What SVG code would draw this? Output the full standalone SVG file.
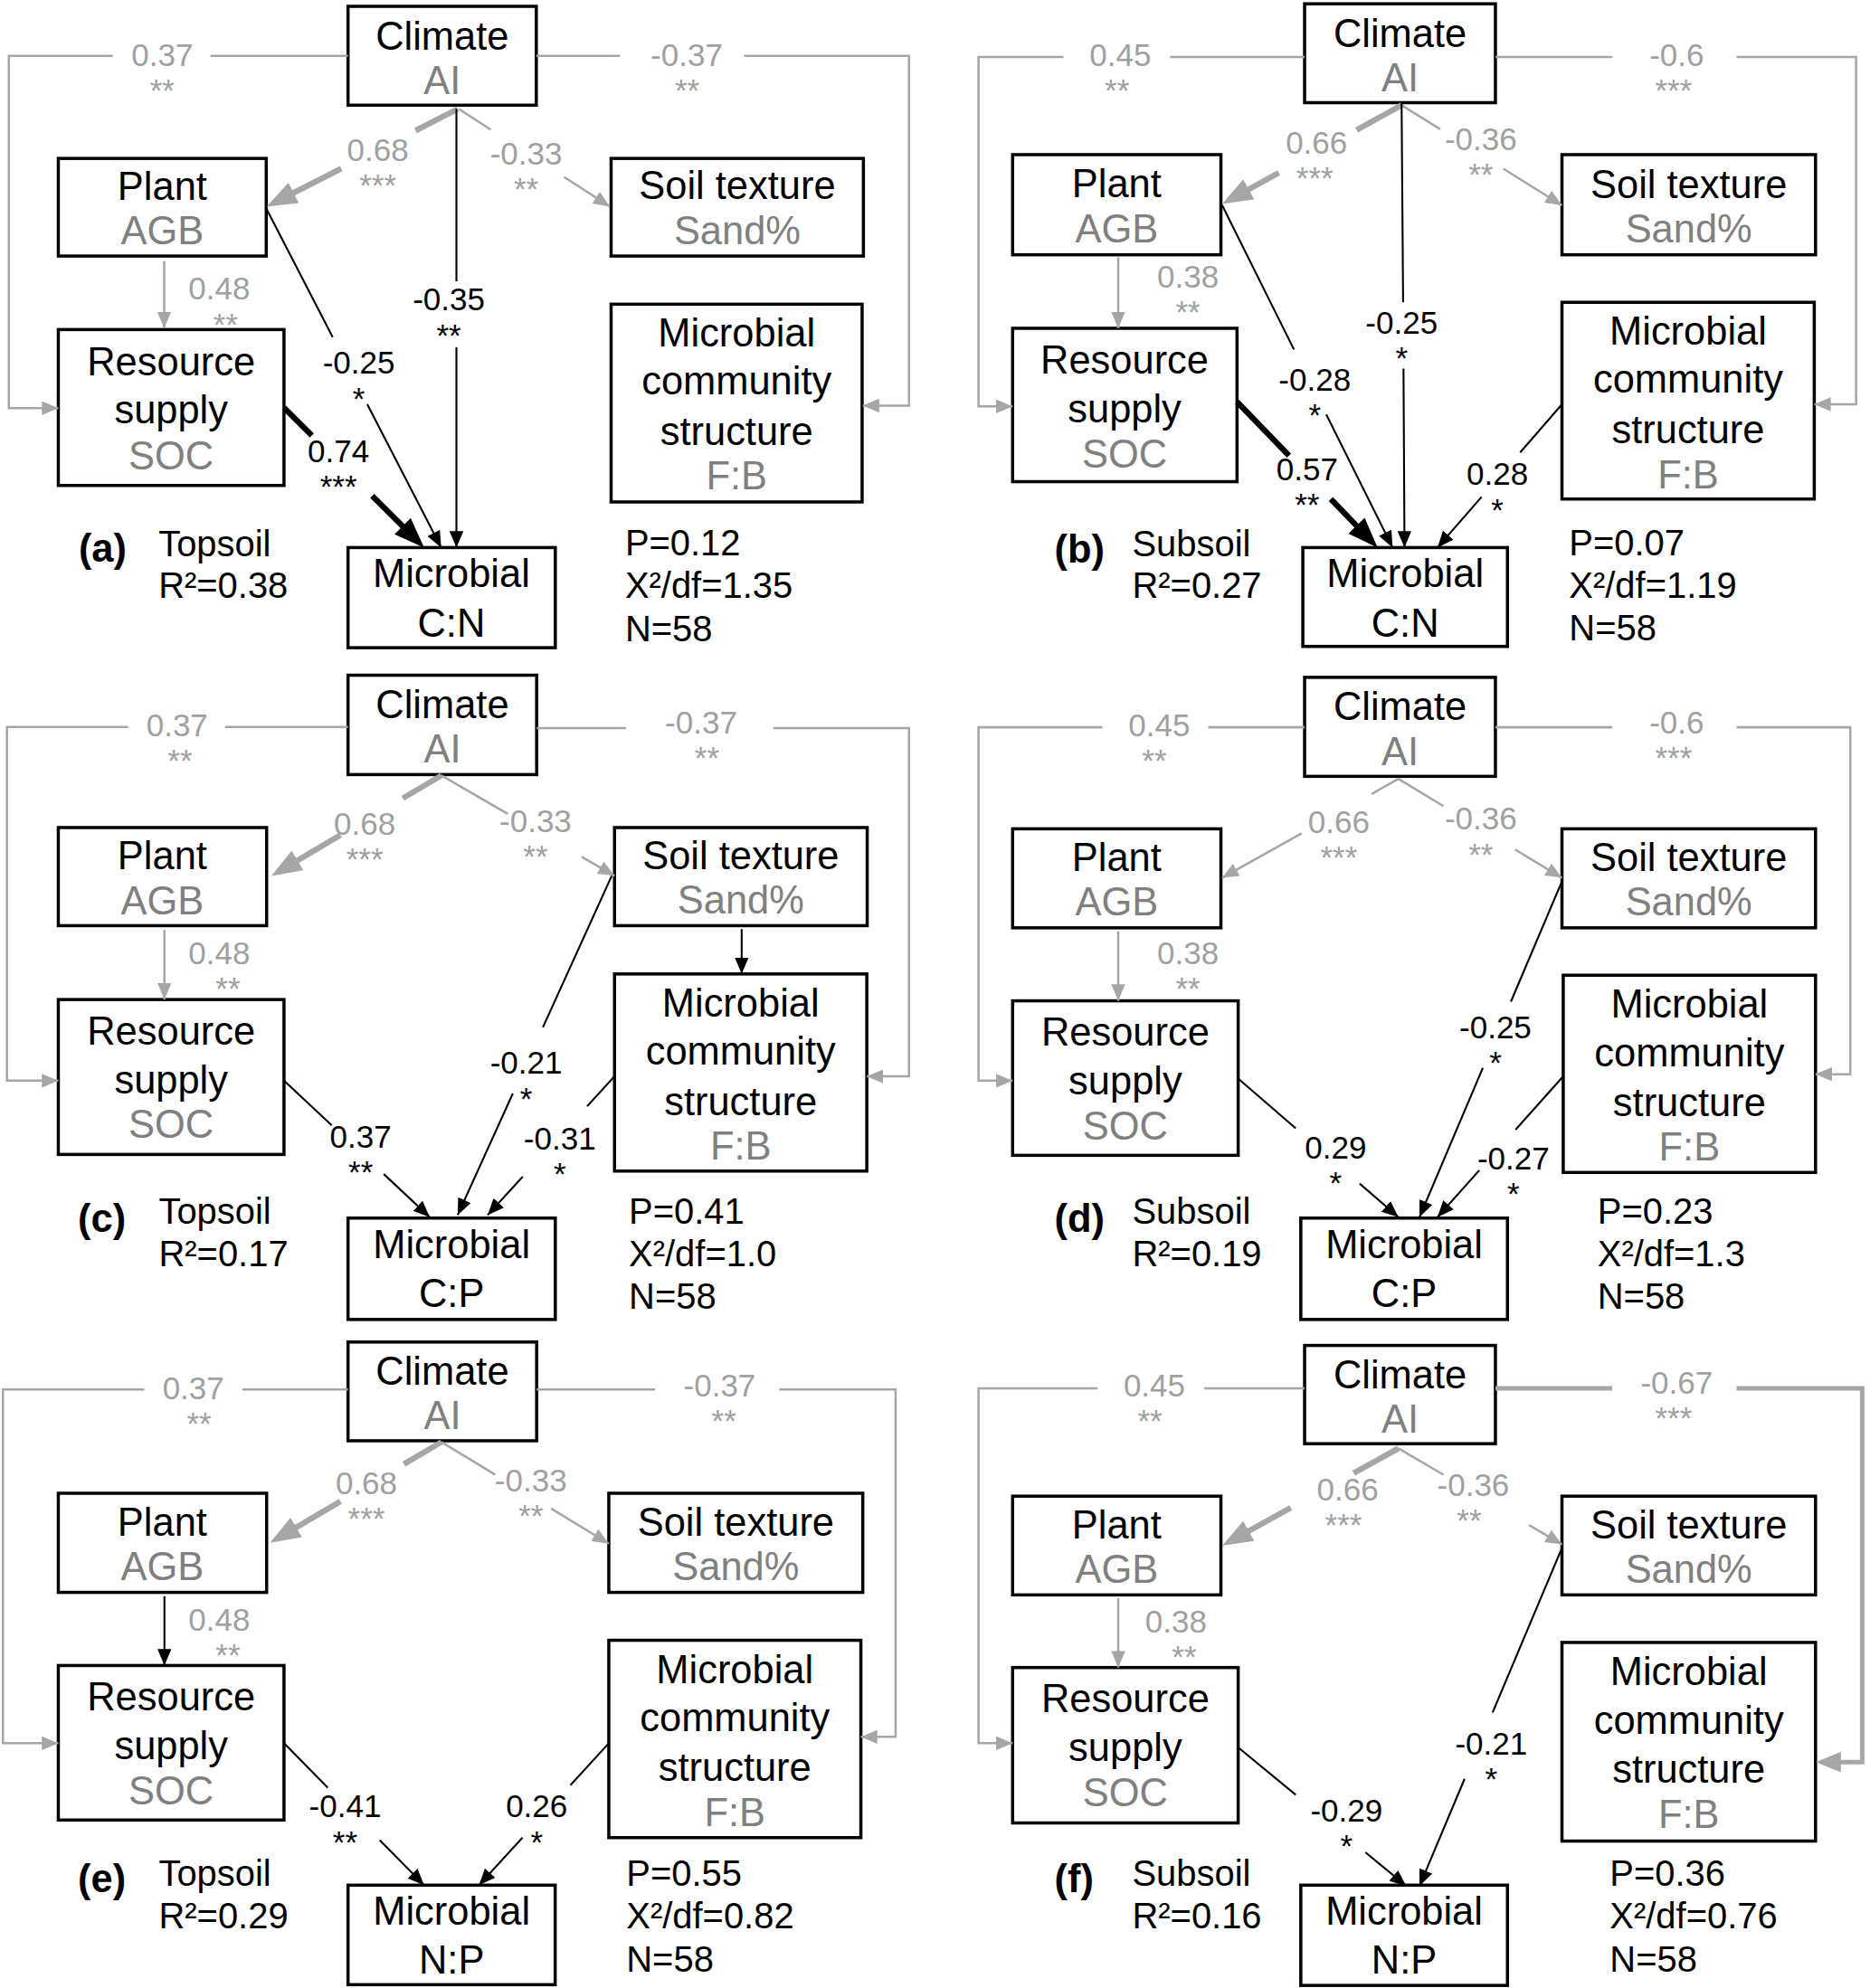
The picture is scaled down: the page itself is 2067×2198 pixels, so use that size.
<svg xmlns="http://www.w3.org/2000/svg" width="2067" height="2198" viewBox="0 0 2067 2198">
<defs>
<style>
.bx{fill:#fff;stroke:#000;stroke-width:2.5}
text{font-family:"Liberation Sans",Arial,sans-serif}
.t{font-size:31px;text-anchor:middle;fill:#000}
.s{font-size:31px;text-anchor:middle;fill:#808080}
.c{font-size:25px;text-anchor:middle;fill:#000}
.cg{font-size:25px;text-anchor:middle;fill:#a0a0a0}
.st{font-size:28.5px;fill:#000}
.pl{font-size:31px;font-weight:bold;fill:#000}
.lg{fill:none;stroke:#a6a6a6;stroke-width:1.8}
.lk{fill:none;stroke:#000;stroke-width:1.5}
.lgT{fill:none;stroke:#a6a6a6;stroke-width:4.5}
.lgM{fill:none;stroke:#a6a6a6;stroke-width:3.5}
.lkT{fill:none;stroke:#000;stroke-width:4.5}
</style>
<marker id="ak" markerUnits="userSpaceOnUse" markerWidth="13" markerHeight="11" refX="13" refY="5.5" orient="auto"><path d="M0,0 L13,5.5 L0,11 z" fill="#000"/></marker>
<marker id="ag" markerUnits="userSpaceOnUse" markerWidth="13" markerHeight="11" refX="13" refY="5.5" orient="auto"><path d="M0,0 L13,5.5 L0,11 z" fill="#a6a6a6"/></marker>
<marker id="AK" markerUnits="userSpaceOnUse" markerWidth="24" markerHeight="18" refX="18" refY="9" orient="auto"><path d="M0,0 L24,9 L0,18 z" fill="#000"/></marker>
<marker id="AG" markerUnits="userSpaceOnUse" markerWidth="24" markerHeight="18" refX="18" refY="9" orient="auto"><path d="M0,0 L24,9 L0,18 z" fill="#a6a6a6"/></marker>
<marker id="AGm" markerUnits="userSpaceOnUse" markerWidth="20" markerHeight="16" refX="15" refY="8" orient="auto"><path d="M0,0 L20,8 L0,16 z" fill="#a6a6a6"/></marker>
</defs>
<rect x="0" y="0" width="2067" height="2198" fill="#fff"/>
<g transform="scale(1.4014)">

<!-- ===== NODES ===== -->
<!-- Panel a -->
<g id="a-climate"><rect class="bx" x="274.5" y="5" width="148.5" height="78"/><text class="t" x="348.8" y="39">Climate</text><text class="s" x="348.8" y="74">AI</text></g>
<g id="a-plant"><rect class="bx" x="46" y="125" width="164" height="77"/><text class="t" x="128" y="158">Plant</text><text class="s" x="128" y="193">AGB</text></g>
<g id="a-resource"><rect class="bx" x="46" y="260" width="178" height="123"/><text class="t" x="135" y="296">Resource</text><text class="t" x="135" y="334">supply</text><text class="s" x="135" y="370">SOC</text></g>
<g id="a-soil"><rect class="bx" x="482" y="125" width="199" height="77"/><text class="t" x="581.5" y="157">Soil texture</text><text class="s" x="581.5" y="193">Sand%</text></g>
<g id="a-mcs"><rect class="bx" x="482" y="240" width="198" height="156"/><text class="t" x="581" y="273">Microbial</text><text class="t" x="581" y="311">community</text><text class="t" x="581" y="351">structure</text><text class="s" x="581" y="386">F:B</text></g>
<g id="a-target"><rect class="bx" x="274.5" y="432" width="163.5" height="79"/><text class="t" x="356" y="463">Microbial</text><text class="t" x="356" y="502">C:N</text></g>

<!-- Panel b -->
<g id="b-climate"><rect class="bx" x="1029" y="3" width="150.5" height="78"/><text class="t" x="1104.3" y="37">Climate</text><text class="s" x="1104.3" y="72">AI</text></g>
<g id="b-plant"><rect class="bx" x="798.7" y="122" width="164.3" height="79"/><text class="t" x="880.8" y="155.5">Plant</text><text class="s" x="880.8" y="191">AGB</text></g>
<g id="b-resource"><rect class="bx" x="798.7" y="259" width="177" height="121"/><text class="t" x="887" y="295">Resource</text><text class="t" x="887" y="333">supply</text><text class="s" x="887" y="369">SOC</text></g>
<g id="b-soil"><rect class="bx" x="1232" y="122" width="200" height="79"/><text class="t" x="1332" y="156">Soil texture</text><text class="s" x="1332" y="191">Sand%</text></g>
<g id="b-mcs"><rect class="bx" x="1232" y="238.5" width="199" height="155.2"/><text class="t" x="1331.5" y="272">Microbial</text><text class="t" x="1331.5" y="310">community</text><text class="t" x="1331.5" y="350">structure</text><text class="s" x="1331.5" y="385">F:B</text></g>
<g id="b-target"><rect class="bx" x="1027.6" y="432" width="161.4" height="78"/><text class="t" x="1108.3" y="463">Microbial</text><text class="t" x="1108.3" y="502">C:N</text></g>

<!-- Panel c -->
<g id="c-climate"><rect class="bx" x="274.5" y="532.7" width="148.8" height="78.4"/><text class="t" x="348.9" y="566.4">Climate</text><text class="s" x="348.9" y="601.7">AI</text></g>
<g id="c-plant"><rect class="bx" x="46" y="652.9" width="164.3" height="77.4"/><text class="t" x="128" y="685.9">Plant</text><text class="s" x="128" y="721.2">AGB</text></g>
<g id="c-resource"><rect class="bx" x="46" y="788.6" width="178" height="122.2"/><text class="t" x="135" y="823.9">Resource</text><text class="t" x="135" y="862.7">supply</text><text class="s" x="135" y="898">SOC</text></g>
<g id="c-soil"><rect class="bx" x="484.7" y="652.9" width="199.3" height="77.4"/><text class="t" x="584.3" y="685.9">Soil texture</text><text class="s" x="584.3" y="720.9">Sand%</text></g>
<g id="c-mcs"><rect class="bx" x="484.7" y="768.4" width="199" height="155.5"/><text class="t" x="584.2" y="802">Microbial</text><text class="t" x="584.2" y="840">community</text><text class="t" x="584.2" y="879.5">structure</text><text class="s" x="584.2" y="914.8">F:B</text></g>
<g id="c-target"><rect class="bx" x="274.5" y="961" width="163.5" height="80"/><text class="t" x="356.2" y="992.3">Microbial</text><text class="t" x="356.2" y="1031">C:P</text></g>

<!-- Panel d -->
<g id="d-climate"><rect class="bx" x="1029" y="534.4" width="150.5" height="78.1"/><text class="t" x="1104.3" y="568.1">Climate</text><text class="s" x="1104.3" y="603.4">AI</text></g>
<g id="d-plant"><rect class="bx" x="798.7" y="653.9" width="164.3" height="78.1"/><text class="t" x="880.8" y="687.4">Plant</text><text class="s" x="880.8" y="722.4">AGB</text></g>
<g id="d-resource"><rect class="bx" x="798.7" y="789.6" width="177.9" height="121.9"/><text class="t" x="887.6" y="825">Resource</text><text class="t" x="887.6" y="863.6">supply</text><text class="s" x="887.6" y="899">SOC</text></g>
<g id="d-soil"><rect class="bx" x="1232" y="653.9" width="200" height="78.1"/><text class="t" x="1332" y="687.4">Soil texture</text><text class="s" x="1332" y="722.4">Sand%</text></g>
<g id="d-mcs"><rect class="bx" x="1233" y="769.4" width="199" height="155.6"/><text class="t" x="1332.5" y="803">Microbial</text><text class="t" x="1332.5" y="841.4">community</text><text class="t" x="1332.5" y="880.4">structure</text><text class="s" x="1332.5" y="915.4">F:B</text></g>
<g id="d-target"><rect class="bx" x="1026" y="961" width="163" height="80"/><text class="t" x="1107.5" y="992.3">Microbial</text><text class="t" x="1107.5" y="1031">C:P</text></g>

<!-- Panel e -->
<g id="e-climate"><rect class="bx" x="274.5" y="1058.8" width="148.8" height="77.9"/><text class="t" x="348.9" y="1092.5">Climate</text><text class="s" x="348.9" y="1127.8">AI</text></g>
<g id="e-plant"><rect class="bx" x="46" y="1178.1" width="164.3" height="78.2"/><text class="t" x="128" y="1211.6">Plant</text><text class="s" x="128" y="1246.6">AGB</text></g>
<g id="e-resource"><rect class="bx" x="46" y="1314" width="178" height="121.9"/><text class="t" x="135" y="1349.3">Resource</text><text class="t" x="135" y="1388">supply</text><text class="s" x="135" y="1423.4">SOC</text></g>
<g id="e-soil"><rect class="bx" x="480.2" y="1178.1" width="200.3" height="78.2"/><text class="t" x="580.4" y="1211.6">Soil texture</text><text class="s" x="580.4" y="1246.6">Sand%</text></g>
<g id="e-mcs"><rect class="bx" x="480.2" y="1294.1" width="198.8" height="155.7"/><text class="t" x="579.6" y="1327.7">Microbial</text><text class="t" x="579.6" y="1366">community</text><text class="t" x="579.6" y="1405.1">structure</text><text class="s" x="579.6" y="1440.5">F:B</text></g>
<g id="e-target"><rect class="bx" x="274.5" y="1487.3" width="163.4" height="78.5"/><text class="t" x="356.2" y="1518.6">Microbial</text><text class="t" x="356.2" y="1557.3">N:P</text></g>

<!-- Panel f -->
<g id="f-climate"><rect class="bx" x="1029" y="1061.5" width="150.5" height="77.5"/><text class="t" x="1104.3" y="1095.2">Climate</text><text class="s" x="1104.3" y="1130.5">AI</text></g>
<g id="f-plant"><rect class="bx" x="798.7" y="1180.4" width="164.3" height="77.9"/><text class="t" x="880.8" y="1213.9">Plant</text><text class="s" x="880.8" y="1248.9">AGB</text></g>
<g id="f-resource"><rect class="bx" x="798.7" y="1315.6" width="177.9" height="122.6"/><text class="t" x="887.6" y="1351">Resource</text><text class="t" x="887.6" y="1389.6">supply</text><text class="s" x="887.6" y="1425">SOC</text></g>
<g id="f-soil"><rect class="bx" x="1232" y="1180.4" width="200" height="77.9"/><text class="t" x="1332" y="1213.9">Soil texture</text><text class="s" x="1332" y="1248.9">Sand%</text></g>
<g id="f-mcs"><rect class="bx" x="1232" y="1295.8" width="200" height="156.7"/><text class="t" x="1332" y="1329.4">Microbial</text><text class="t" x="1332" y="1367.7">community</text><text class="t" x="1332" y="1406.8">structure</text><text class="s" x="1332" y="1442.2">F:B</text></g>
<g id="f-target"><rect class="bx" x="1026" y="1487.3" width="163" height="79.1"/><text class="t" x="1107.5" y="1518.6">Microbial</text><text class="t" x="1107.5" y="1557.3">N:P</text></g>

<!-- ===== CONNECTORS ===== -->
<g id="connectors">
<!-- a -->
<path class="lg" marker-end="url(#ag)" d="M274.5,44 H166 M89,44 H7 V322 H46"/>
<path class="lg" marker-end="url(#ag)" d="M423,44 H489 M587,44 H717 V320 H680.5"/>
<path class="lgT" marker-end="url(#AG)" d="M361,86 L327.8,103 M269.1,133 L215.6,160.3"/>
<path class="lg" marker-end="url(#ag)" d="M362,86 L387,102.2 M445,139.7 L481,163"/>
<path class="lg" marker-end="url(#ag)" d="M129.5,206 V259"/>
<path class="lk" marker-end="url(#ak)" d="M210.3,165 L262.4,266 M289.7,319 L348,432"/>
<path class="lk" marker-end="url(#ak)" d="M360,86 V222 M360,274 V432"/>
<path class="lkT" marker-end="url(#AK)" d="M224,321.6 L246,343.6 M293.6,391.2 L330.3,427.8"/>
<!-- b -->
<path class="lg" marker-end="url(#ag)" d="M1029,45 H922.8 M838.8,45 H771.8 V320.6 H798.7"/>
<path class="lg" marker-end="url(#ag)" d="M1179.5,45 H1271.6 M1369.7,45 H1464 V319 H1431"/>
<path class="lgT" marker-end="url(#AG)" d="M1105.5,83 L1070,102.6 M1008.7,136.3 L969.2,158.1"/>
<path class="lg" marker-end="url(#ag)" d="M1105.5,83 L1136,102 M1185.7,133.1 L1232,162"/>
<path class="lg" marker-end="url(#ag)" d="M882,203 V259"/>
<path class="lk" marker-end="url(#ak)" d="M964,162 L1020.6,275.7 M1046.1,327 L1098.4,432"/>
<path class="lk" marker-end="url(#ak)" d="M1105.5,81 L1106.7,238.5 M1107,290.7 L1107.8,432"/>
<path class="lkT" marker-end="url(#AK)" d="M975.7,317 L1016.7,359.5 M1049.7,393.7 L1082.4,427.7"/>
<path class="lk" marker-end="url(#ak)" d="M1232,319 L1199,357 M1168.6,392 L1133.8,432"/>
<!-- c -->
<path class="lg" marker-end="url(#ag)" d="M274.5,573.5 H177.5 M101,573.5 H5.5 V852.6 H46"/>
<path class="lg" marker-end="url(#ag)" d="M423.3,574.5 H493.8 M610,574.5 H717 V849.2 H683.7"/>
<path class="lgT" marker-end="url(#AG)" d="M348.2,611.8 L317.7,629.8 M268.5,658.8 L219.2,688"/>
<path class="lg" marker-end="url(#ag)" d="M348.2,611.8 L400.5,642.1 M458.8,676 L484.7,691"/>
<path class="lg" marker-end="url(#ag)" d="M129.7,733.7 V788.6"/>
<path class="lk" marker-end="url(#ak)" d="M585,733 V768.4"/>
<path class="lk" marker-end="url(#ak)" d="M482.5,691 L428.2,810.5 M404.5,862.7 L361,958.6"/>
<path class="lk" marker-end="url(#ak)" d="M224,852.6 L261.7,887.9 M302.7,926.3 L339,960.3"/>
<path class="lk" marker-end="url(#ak)" d="M484.7,849.2 L463.1,872.8 M412.3,928.3 L384.6,958.6"/>
<!-- d -->
<path class="lg" marker-end="url(#ag)" d="M1029,573.8 H953 M869.5,573.8 H771.8 V852.6 H798.7"/>
<path class="lg" marker-end="url(#ag)" d="M1179.5,573.8 H1271.6 M1369.7,573.8 H1459.4 V847.5 H1432"/>
<path class="lg" marker-end="url(#ag)" d="M1103,614.5 L1081.9,626.4 M1026.6,657.4 L963.9,692.6"/>
<path class="lg" marker-end="url(#ag)" d="M1103,614.5 L1138.5,636 M1195,670.2 L1232,692.6"/>
<path class="lg" marker-end="url(#ag)" d="M882,734.7 V789.6"/>
<path class="lk" marker-end="url(#ak)" d="M1232,695.3 L1191.7,790.3 M1169.6,842.4 L1119.6,960.3"/>
<path class="lk" marker-end="url(#ak)" d="M976.6,850.9 L1022,890.2 M1072.4,933.8 L1103,960.3"/>
<path class="lk" marker-end="url(#ak)" d="M1233,849.2 L1195.4,891.3 M1166.8,923.3 L1133.8,960.3"/>
<!-- e -->
<path class="lg" marker-end="url(#ag)" d="M274.5,1096.3 H191.2 M113.8,1096.3 H2.3 V1375.3 H46"/>
<path class="lg" marker-end="url(#ag)" d="M423.3,1096.3 H516.6 M614.5,1096.3 H706.4 V1370.3 H679"/>
<path class="lgT" marker-end="url(#AG)" d="M348.2,1137.7 L318.6,1155.1 M268.5,1184.5 L218.2,1214.2"/>
<path class="lg" marker-end="url(#ag)" d="M348.2,1137.7 L390.5,1163.4 M434.7,1190.2 L480.2,1217.9"/>
<path class="lk" marker-end="url(#ak)" d="M129.7,1259.3 V1314"/>
<path class="lk" marker-end="url(#ak)" d="M224,1375.3 L258.5,1410.3 M299.5,1451.8 L334.5,1487.3"/>
<path class="lk" marker-end="url(#ak)" d="M480.2,1375.3 L449.9,1408.4 M412.1,1449.8 L377.8,1487.3"/>
<!-- f -->
<path class="lg" marker-end="url(#ag)" d="M1029,1095.3 H949.7 M865.7,1095.3 H771.8 V1375.3 H798.7"/>
<path class="lgM" marker-end="url(#AGm)" d="M1179.5,1095.3 H1271.6 M1369.7,1095.3 H1468.8 V1390.2 H1437"/>
<path class="lgT" marker-end="url(#AG)" d="M1103,1142.7 L1067.7,1162.2 M1018.1,1189.6 L969.2,1216.6"/>
<path class="lg" marker-end="url(#ag)" d="M1103,1142.7 L1138.5,1163.5 M1206,1203.2 L1232,1218.5"/>
<path class="lg" marker-end="url(#ag)" d="M882,1261 V1315.6"/>
<path class="lk" marker-end="url(#ak)" d="M1232,1221.2 L1177.3,1351 M1155.2,1403.4 L1119.6,1488"/>
<path class="lk" marker-end="url(#ak)" d="M976.6,1378.6 L1022,1416 M1077,1461.4 L1109.2,1488"/>
</g>

<!-- ===== PATH COEFFICIENT LABELS ===== -->
<g id="coefficients">
<!-- a -->
<text class="cg" x="128" y="52">0.37<tspan x="128" dy="28">**</tspan></text>
<text class="cg" x="541.6" y="52">-0.37<tspan x="542" dy="28">**</tspan></text>
<text class="cg" x="298" y="127">0.68<tspan x="298" dy="28">***</tspan></text>
<text class="cg" x="415" y="129.6">-0.33<tspan x="415" dy="28">**</tspan></text>
<text class="cg" x="173" y="236.5">0.48<tspan x="178" dy="28">**</tspan></text>
<text class="c" x="283" y="295">-0.25<tspan x="283" dy="28">*</tspan></text>
<text class="c" x="354" y="245">-0.35<tspan x="354" dy="28">**</tspan></text>
<text class="c" x="267" y="364.5">0.74<tspan x="267" dy="28">***</tspan></text>
<!-- b -->
<text class="cg" x="883.7" y="52">0.45<tspan x="881" dy="28">**</tspan></text>
<text class="cg" x="1322.5" y="52">-0.6<tspan x="1320" dy="28">***</tspan></text>
<text class="cg" x="1038.4" y="121">0.66<tspan x="1037" dy="28">***</tspan></text>
<text class="cg" x="1168" y="118.6">-0.36<tspan x="1168" dy="28">**</tspan></text>
<text class="cg" x="937" y="226.6">0.38<tspan x="937" dy="28">**</tspan></text>
<text class="c" x="1037" y="308">-0.28<tspan x="1037" dy="28">*</tspan></text>
<text class="c" x="1105.5" y="263">-0.25<tspan x="1105.5" dy="28">*</tspan></text>
<text class="c" x="1031" y="379">0.57<tspan x="1031" dy="28">**</tspan></text>
<text class="c" x="1181" y="382.7">0.28<tspan x="1181" dy="28">*</tspan></text>
<!-- c -->
<text class="cg" x="139.7" y="580.5">0.37<tspan x="142" dy="28">**</tspan></text>
<text class="cg" x="553" y="578.8">-0.37<tspan x="557.6" dy="28">**</tspan></text>
<text class="cg" x="287.7" y="658.6">0.68<tspan x="287.7" dy="28">***</tspan></text>
<text class="cg" x="422.4" y="656.3">-0.33<tspan x="422.4" dy="28">**</tspan></text>
<text class="cg" x="173" y="760.6">0.48<tspan x="179.8" dy="28">**</tspan></text>
<text class="c" x="415" y="847.2">-0.21<tspan x="415" dy="28">*</tspan></text>
<text class="c" x="284.5" y="905.4">0.37<tspan x="284.5" dy="28">**</tspan></text>
<text class="c" x="441.5" y="907">-0.31<tspan x="441.5" dy="28">*</tspan></text>
<!-- d -->
<text class="cg" x="914.3" y="580.5">0.45<tspan x="910.5" dy="28">**</tspan></text>
<text class="cg" x="1322.5" y="578.8">-0.6<tspan x="1320" dy="28">***</tspan></text>
<text class="cg" x="1056" y="657.3">0.66<tspan x="1056" dy="28">***</tspan></text>
<text class="cg" x="1168" y="654.6">-0.36<tspan x="1168" dy="28">**</tspan></text>
<text class="cg" x="937" y="760.6">0.38<tspan x="937" dy="28">**</tspan></text>
<text class="c" x="1179.5" y="818.9">-0.25<tspan x="1179.5" dy="28">*</tspan></text>
<text class="c" x="1053.5" y="913.8">0.29<tspan x="1053.5" dy="28">*</tspan></text>
<text class="c" x="1193.7" y="922.3">-0.27<tspan x="1193.7" dy="28">*</tspan></text>
<!-- e -->
<text class="cg" x="152.5" y="1103.6">0.37<tspan x="157" dy="28">**</tspan></text>
<text class="cg" x="567.6" y="1101.6">-0.37<tspan x="571" dy="28">**</tspan></text>
<text class="cg" x="289" y="1178.8">0.68<tspan x="289" dy="28">***</tspan></text>
<text class="cg" x="418.7" y="1176.5">-0.33<tspan x="418.7" dy="28">**</tspan></text>
<text class="cg" x="173" y="1286.5">0.48<tspan x="179.8" dy="28">**</tspan></text>
<text class="c" x="272.2" y="1433.9">-0.41<tspan x="272.2" dy="28">**</tspan></text>
<text class="c" x="423.3" y="1433.9">0.26<tspan x="423.3" dy="28">*</tspan></text>
<!-- f -->
<text class="cg" x="910.5" y="1101.6">0.45<tspan x="907" dy="28">**</tspan></text>
<text class="cg" x="1322.5" y="1099.3">-0.67<tspan x="1320" dy="28">***</tspan></text>
<text class="cg" x="1063" y="1183.8">0.66<tspan x="1059.7" dy="28">***</tspan></text>
<text class="cg" x="1162" y="1180.4">-0.36<tspan x="1158.8" dy="28">**</tspan></text>
<text class="cg" x="927.5" y="1288.1">0.38<tspan x="934" dy="28">**</tspan></text>
<text class="c" x="1176.2" y="1384.2">-0.21<tspan x="1176.2" dy="28">*</tspan></text>
<text class="c" x="1062" y="1437.2">-0.29<tspan x="1062" dy="28">*</tspan></text>
</g>

<!-- ===== PANEL LABELS AND STATISTICS ===== -->
<g id="stats">
<text class="pl" x="62" y="443">(a)</text>
<text class="st" x="125" y="438.5">Topsoil<tspan x="125" dy="33.5">R²=0.38</tspan></text>
<text class="st" x="493" y="438">P=0.12<tspan x="493" dy="34">X²/df=1.35</tspan><tspan x="493" dy="34">N=58</tspan></text>

<text class="pl" x="831.7" y="443.5">(b)</text>
<text class="st" x="893" y="438.5">Subsoil<tspan x="893" dy="33.3">R²=0.27</tspan></text>
<text class="st" x="1237.6" y="438">P=0.07<tspan x="1237.6" dy="34">X²/df=1.19</tspan><tspan x="1237.6" dy="33">N=58</tspan></text>

<text class="pl" x="61.4" y="972">(c)</text>
<text class="st" x="125.2" y="965.3">Topsoil<tspan x="125.2" dy="33.7">R²=0.17</tspan></text>
<text class="st" x="496" y="965.3">P=0.41<tspan x="496" dy="33.7">X²/df=1.0</tspan><tspan x="496" dy="33.7">N=58</tspan></text>

<text class="pl" x="831.7" y="972">(d)</text>
<text class="st" x="893" y="965.3">Subsoil<tspan x="893" dy="33.7">R²=0.19</tspan></text>
<text class="st" x="1260" y="965.3">P=0.23<tspan x="1260" dy="33.7">X²/df=1.3</tspan><tspan x="1260" dy="33.7">N=58</tspan></text>

<text class="pl" x="61.4" y="1492.9">(e)</text>
<text class="st" x="125.2" y="1487.9">Topsoil<tspan x="125.2" dy="33.1">R²=0.29</tspan></text>
<text class="st" x="494" y="1487.9">P=0.55<tspan x="494" dy="33.1">X²/df=0.82</tspan><tspan x="494" dy="34.9">N=58</tspan></text>

<text class="pl" x="831.7" y="1492.9">(f)</text>
<text class="st" x="893" y="1487.9">Subsoil<tspan x="893" dy="33.1">R²=0.16</tspan></text>
<text class="st" x="1269.7" y="1487.9">P=0.36<tspan x="1269.7" dy="33.1">X²/df=0.76</tspan><tspan x="1269.7" dy="34.9">N=58</tspan></text>
</g>
</g>
</svg>
